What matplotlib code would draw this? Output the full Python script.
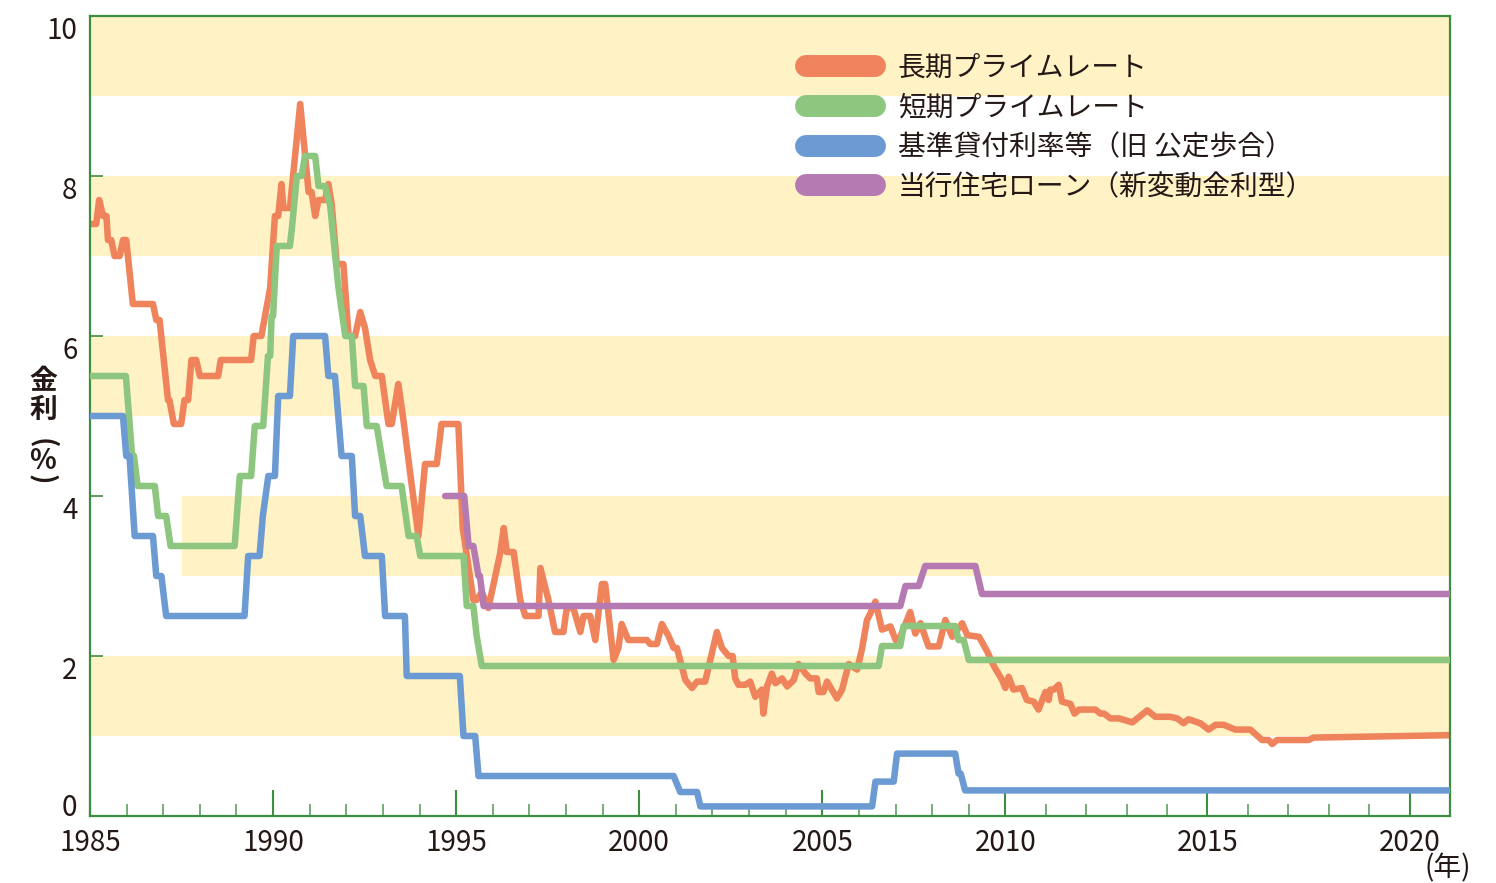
import numpy as np
import matplotlib
matplotlib.use("Agg")
import matplotlib.pyplot as plt
from matplotlib.lines import Line2D
from matplotlib.ticker import FixedLocator

plt.rcParams['font.family'] = ['Noto Sans CJK JP', 'DejaVu Sans']

# 長期プライムレート
long_years = [1985.03, 1985.17, 1985.25, 1985.36, 1985.45, 1985.49, 1985.58, 1985.67, 1985.81, 1985.90,
              1985.99, 1986.17, 1986.72, 1986.81, 1986.90, 1987.13, 1987.17, 1987.29, 1987.49, 1987.58,
              1987.68, 1987.77, 1987.90, 1988.00, 1988.50, 1988.57, 1989.40, 1989.47, 1989.68, 1989.92,
              1990.05, 1990.14, 1990.23, 1990.28, 1990.46, 1990.74, 1990.97, 1991.05, 1991.15, 1991.24,
              1991.42, 1991.51, 1991.60, 1991.74, 1991.92, 1992.06, 1992.24, 1992.38, 1992.51, 1992.65,
              1992.79, 1992.97, 1993.15, 1993.24, 1993.42, 1993.56, 1993.74, 1993.97, 1994.15, 1994.47,
              1994.60, 1995.06, 1995.18, 1995.47, 1995.56, 1995.70, 1995.88, 1996.16, 1996.20, 1996.30,
              1996.38, 1996.57, 1996.75, 1996.89, 1997.25, 1997.30, 1997.52, 1997.70, 1997.93, 1998.02,
              1998.20, 1998.39, 1998.48, 1998.66, 1998.80, 1998.98, 1999.07, 1999.30, 1999.43, 1999.52,
              1999.70, 2000.21, 2000.30, 2000.48, 2000.62, 2000.80, 2000.94, 2001.03, 2001.26, 2001.44,
              2001.58, 2001.80, 2002.12, 2002.26, 2002.44, 2002.55, 2002.62, 2002.71, 2002.90, 2003.03,
              2003.17, 2003.35, 2003.39, 2003.49, 2003.62, 2003.72, 2003.90, 2004.04, 2004.22, 2004.35,
              2004.54, 2004.67, 2004.85, 2004.90, 2005.03, 2005.13, 2005.40, 2005.54, 2005.72, 2005.95,
              2006.08, 2006.22, 2006.31, 2006.45, 2006.63, 2006.86, 2007.00, 2007.13, 2007.40, 2007.54,
              2007.68, 2007.90, 2008.18, 2008.36, 2008.55, 2008.82, 2008.96, 2009.28, 2009.51, 2009.69,
              2009.91, 2010.00, 2010.08, 2010.20, 2010.41, 2010.53, 2010.70, 2010.82, 2010.99, 2011.07,
              2011.11, 2011.20, 2011.32, 2011.40, 2011.61, 2011.71, 2011.82, 2012.23, 2012.35, 2012.44,
              2012.60, 2012.81, 2013.14, 2013.51, 2013.71, 2014.08, 2014.25, 2014.41, 2014.53, 2014.82,
              2015.03, 2015.20, 2015.40, 2015.69, 2016.06, 2016.35, 2016.51, 2016.60, 2016.72, 2017.50,
              2017.62, 2021.00]
long_rate = [7.40, 7.40, 7.70, 7.50, 7.50, 7.20, 7.20, 7.00, 7.00, 7.20,
             7.20, 6.40, 6.40, 6.20, 6.20, 5.20, 5.20, 4.90, 4.90, 5.20,
             5.20, 5.70, 5.70, 5.50, 5.50, 5.70, 5.70, 6.00, 6.00, 6.60,
             7.50, 7.50, 7.90, 7.60, 7.60, 8.90, 7.80, 7.80, 7.50, 7.70,
             7.70, 7.90, 7.65, 6.90, 6.90, 6.00, 6.00, 6.30, 6.10, 5.70,
             5.50, 5.50, 4.90, 4.90, 5.40, 4.95, 4.30, 3.50, 4.40, 4.40,
             4.90, 4.90, 3.60, 2.70, 2.70, 2.80, 2.60, 3.20, 3.28, 3.60,
             3.30, 3.30, 2.70, 2.50, 2.50, 3.10, 2.70, 2.30, 2.30, 2.60,
             2.60, 2.30, 2.50, 2.50, 2.20, 2.90, 2.90, 1.95, 2.10, 2.40,
             2.20, 2.20, 2.15, 2.15, 2.40, 2.25, 2.10, 2.10, 1.70, 1.60,
             1.68, 1.68, 2.30, 2.10, 2.00, 2.00, 1.72, 1.64, 1.64, 1.68,
             1.49, 1.58, 1.28, 1.62, 1.78, 1.66, 1.72, 1.62, 1.70, 1.90,
             1.78, 1.72, 1.72, 1.55, 1.55, 1.68, 1.47, 1.58, 1.90, 1.83,
             2.08, 2.45, 2.53, 2.68, 2.33, 2.37, 2.20, 2.24, 2.55, 2.28,
             2.41, 2.12, 2.12, 2.45, 2.24, 2.41, 2.26, 2.24, 2.05, 1.87,
             1.70, 1.60, 1.74, 1.58, 1.60, 1.45, 1.43, 1.33, 1.55, 1.45,
             1.58, 1.58, 1.64, 1.43, 1.40, 1.28, 1.33, 1.33, 1.28, 1.28,
             1.22, 1.22, 1.17, 1.32, 1.24, 1.24, 1.22, 1.16, 1.21, 1.16,
             1.08, 1.14, 1.14, 1.08, 1.08, 0.95, 0.95, 0.90, 0.95, 0.95,
             0.98, 1.01]

# 短期プライムレート
short_years = [1985.00, 1985.98, 1986.15, 1986.20, 1986.30, 1986.77, 1986.86, 1987.08, 1987.20, 1988.95,
               1989.09, 1989.40, 1989.50, 1989.73, 1989.86, 1989.92, 1989.96, 1990.00, 1990.10, 1990.46,
               1990.52, 1990.65, 1990.78, 1990.87, 1991.15, 1991.24, 1991.42, 1991.56, 1991.78, 1991.97,
               1992.15, 1992.24, 1992.47, 1992.56, 1992.83, 1992.92, 1993.10, 1993.51, 1993.70, 1993.92,
               1994.02, 1995.20, 1995.29, 1995.47, 1995.56, 1995.70, 2006.54, 2006.63, 2007.13, 2007.22,
               2008.63, 2008.72, 2008.86, 2009.00, 2021.00]
short_rate = [5.50, 5.50, 4.50, 4.50, 4.125, 4.125, 3.75, 3.75, 3.375, 3.375,
              4.25, 4.25, 4.875, 4.875, 5.75, 5.75, 6.25, 6.25, 7.125, 7.125,
              7.375, 8.00, 8.00, 8.25, 8.25, 7.875, 7.875, 7.625, 6.625, 6.00,
              6.00, 5.375, 5.375, 4.875, 4.875, 4.625, 4.125, 4.125, 3.50, 3.50,
              3.25, 3.25, 2.625, 2.625, 2.25, 1.875, 1.875, 2.125, 2.125, 2.375,
              2.375, 2.20, 2.20, 1.95, 1.95]

# 基準貸付利率等（旧 公定歩合）
base_years = [1985.00, 1985.90, 1985.99, 1986.08, 1986.22, 1986.72, 1986.81, 1986.95, 1987.08, 1989.22,
              1989.32, 1989.63, 1989.72, 1989.87, 1990.05, 1990.14, 1990.46, 1990.55, 1991.42, 1991.51,
              1991.69, 1991.87, 1992.15, 1992.24, 1992.38, 1992.51, 1992.97, 1993.06, 1993.60, 1993.65,
              1995.10, 1995.20, 1995.52, 1995.61, 2000.94, 2001.12, 2001.58, 2001.67, 2006.36, 2006.45,
              2006.95, 2007.04, 2008.63, 2008.72, 2008.78, 2008.90, 2021.00]
base_rate = [5.00, 5.00, 4.50, 4.50, 3.50, 3.50, 3.00, 3.00, 2.50, 2.50,
             3.25, 3.25, 3.75, 4.25, 4.25, 5.25, 5.25, 6.00, 6.00, 5.50,
             5.50, 4.50, 4.50, 3.75, 3.75, 3.25, 3.25, 2.50, 2.50, 1.75,
             1.75, 1.00, 1.00, 0.50, 0.50, 0.30, 0.30, 0.12, 0.12, 0.43,
             0.43, 0.78, 0.78, 0.53, 0.53, 0.32, 0.32]

# 当行住宅ローン（新変動金利型）
loan_years = [1994.70, 1995.22, 1995.34, 1995.47, 1995.61, 1995.65, 1995.75, 2007.13, 2007.27, 2007.63,
              2007.81, 2009.18, 2009.36, 2021.00]
loan_rate = [4.00, 4.00, 3.375, 3.375, 3.00, 3.00, 2.625, 2.625, 2.875, 2.875,
             3.125, 3.125, 2.775, 2.775]

labels = ['長期プライムレート', '短期プライムレート', '基準貸付利率等（旧 公定歩合）', '当行住宅ローン（新変動金利型）']
colors = ['#EF845C', '#8DC67F', '#6B9BD2', '#B57AB2']

# the source chart squeezes 1985-2010 and stretches 2010-2021
K = 40.4 / 36.6


def fwd(x):
    x = np.asarray(x, dtype=float)
    return np.where(x <= 2010, x - 1985, 25 + (x - 2010) * K)


def inv(u):
    u = np.asarray(u, dtype=float)
    return np.where(u <= 25, u + 1985, 2010 + (u - 25) / K)


fig = plt.figure(figsize=(14.96, 8.83), dpi=100)
ax = fig.add_axes([90 / 1496, 67 / 883, 1360 / 1496, 800 / 883])
ax.set_xscale('function', functions=(fwd, inv))
ax.set_xlim(1985, 2021)
ax.set_ylim(0, 10)

band = '#FFF2C4'
for lo in [9, 7, 5, 1]:
    ax.axhspan(lo, lo + 1, color=band, lw=0, zorder=0)
ax.fill_between([1987.5, 2021], 3, 4, color=band, lw=0, zorder=0)

lw = 4.7
ax.plot(long_years, long_rate, color=colors[0], lw=lw, solid_joinstyle='round', solid_capstyle='round', zorder=2)
ax.plot(short_years, short_rate, color=colors[1], lw=lw, solid_joinstyle='round', solid_capstyle='round', zorder=3)
ax.plot(base_years, base_rate, color=colors[2], lw=lw, solid_joinstyle='round', solid_capstyle='round', zorder=3)
ax.plot(loan_years, loan_rate, color=colors[3], lw=lw, solid_joinstyle='round', solid_capstyle='round', zorder=4)

green = '#3E8E41'
for s in ax.spines.values():
    s.set_color(green)
    s.set_linewidth(1.6)

ax.xaxis.set_major_locator(FixedLocator(list(range(1985, 2021, 5))))
ax.xaxis.set_minor_locator(FixedLocator(list(range(1985, 2022))))
ax.set_xticklabels([str(y) for y in range(1985, 2021, 5)])
ax.tick_params(axis='x', which='major', direction='in', length=19, width=1.5, color=green,
               labelsize=20, labelcolor='#231815', pad=8.5)
ax.tick_params(axis='x', which='minor', direction='in', length=9, width=1.2, color='#5FA060')

ax.set_yticks([0, 2, 4, 6, 8, 10])
ax.set_yticklabels(['0', '2', '4', '6', '8', '10'])
ax.tick_params(axis='y', direction='in', length=9, width=1.2, color=green,
               labelsize=20, labelcolor='#231815', pad=9)
for lab in ax.get_yticklabels():
    lab.set_va('baseline' if lab.get_text() == '0' else 'top')

handles = [Line2D([0], [0], color=c, lw=15.8, solid_capstyle='round') for c in colors]
leg = ax.legend(handles, labels, loc='upper left', bbox_to_anchor=(0.5265, 0.954),
                frameon=False, fontsize=20, handlelength=2.5, handletextpad=0.8,
                labelspacing=0.35, borderpad=0, borderaxespad=0)
for t in leg.get_texts():
    t.set_color('#231815')

# vertical y label: 金利（%）
ylab = dict(ha='center', va='center', fontsize=20, color='#231815', fontweight='bold')
fig.text(43 / 1496, 1 - 381 / 883, '金', **ylab)
fig.text(43 / 1496, 1 - 410 / 883, '利', **ylab)
fig.text(43 / 1496, 1 - 443 / 883, '(', rotation=-90, **ylab)
fig.text(43 / 1496, 1 - 461 / 883, '%', **ylab)
fig.text(43 / 1496, 1 - 479 / 883, ')', rotation=-90, **ylab)

fig.text(1448 / 1496, 1 - 868 / 883, '(年)', ha='center', va='center', fontsize=20, color='#231815')

fig.savefig('out.png', dpi=100, facecolor='white')
